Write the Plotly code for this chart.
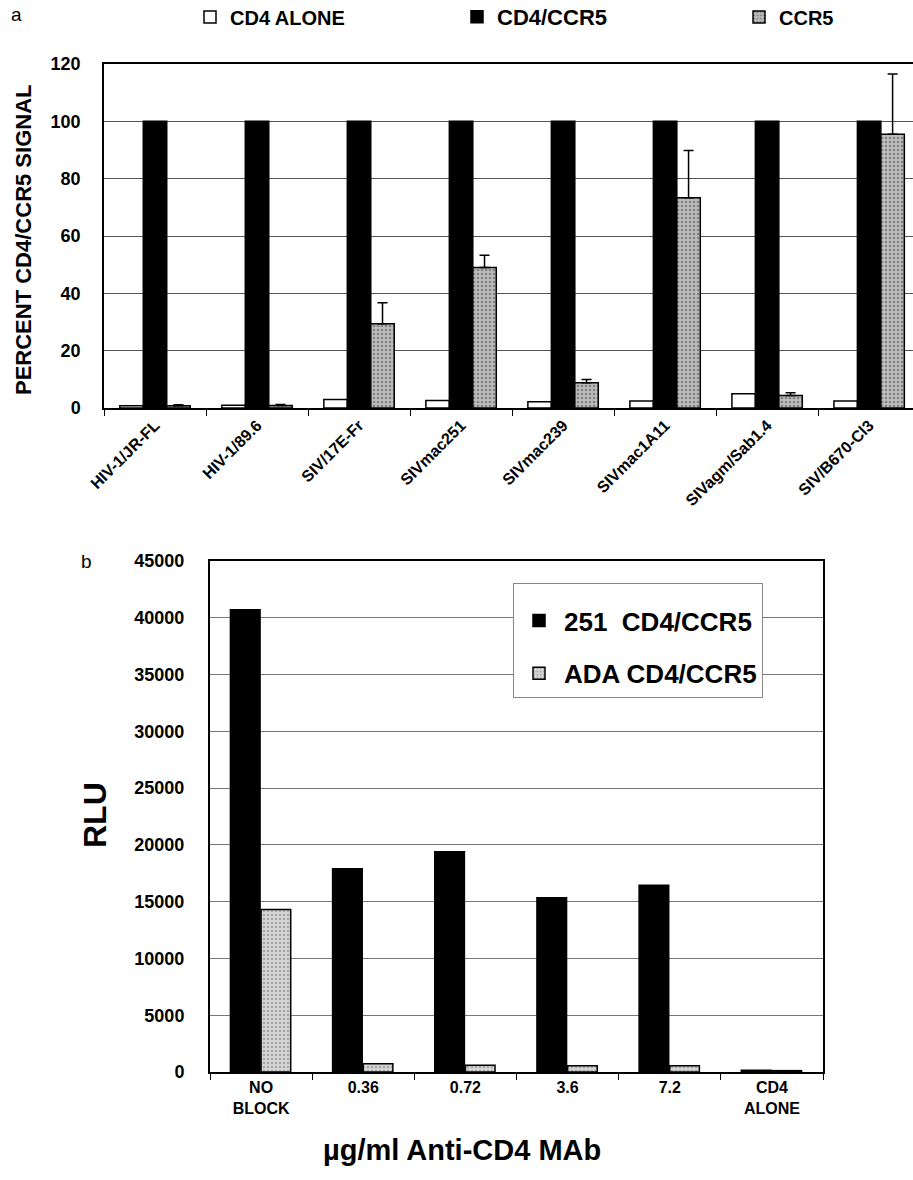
import plotly.graph_objects as go

# ---------------- data ----------------
strains = ["HIV-1/JR-FL", "HIV-1/89.6", "SIV/17E-Fr", "SIVmac251",
           "SIVmac239", "SIVmac1A11", "SIVagm/Sab1.4", "SIV/B670-Cl3"]
cd4_alone = [0.8, 1.0, 3.0, 2.6, 2.2, 2.4, 5.0, 2.4]
cd4_ccr5 = [100, 100, 100, 100, 100, 100, 100, 100]
ccr5 = [0.8, 0.9, 29.4, 49.0, 8.8, 73.3, 4.4, 95.5]
ccr5_err = [0.3, 0.3, 7.3, 4.3, 1.1, 16.5, 0.9, 21.0]

doses = ["NO<br>BLOCK", "0.36", "0.72", "3.6", "7.2", "CD4<br>ALONE"]
rlu_251 = [40700, 17900, 19400, 15350, 16450, 150]
rlu_ada = [14300, 730, 600, 560, 550, 120]

W, H = 913, 1180
FONT = "Liberation Sans, Arial, sans-serif"

grey_pattern = dict(shape=".", fgcolor="#4a4a4a", bgcolor="#bdbdbd", size=4, solidity=0.35)
grey_pattern_b = dict(shape=".", fgcolor="#777777", bgcolor="#d6d6d6", size=4, solidity=0.3)

fig = go.Figure()

# ---------------- panel a ----------------
bw = 0.23
fig.add_trace(go.Bar(x=strains, y=cd4_alone, name="CD4 ALONE", width=bw, offset=-0.345,
                     marker=dict(color="white", line=dict(color="black", width=1.5)),
                     xaxis="x", yaxis="y", legend="legend"))
fig.add_trace(go.Bar(x=strains, y=cd4_ccr5, name="CD4/CCR5", width=bw, offset=-0.115,
                     marker=dict(color="black", line=dict(color="black", width=1.5)),
                     xaxis="x", yaxis="y", legend="legend3"))
fig.add_trace(go.Bar(x=strains, y=ccr5, name="CCR5", width=bw, offset=0.115,
                     marker=dict(color="#bdbdbd", pattern=grey_pattern,
                                 line=dict(color="black", width=1.5)),
                     error_y=dict(type="data", symmetric=False, array=ccr5_err,
                                  arrayminus=[0] * len(ccr5_err), color="black",
                                  thickness=1.5, width=5),
                     xaxis="x", yaxis="y", legend="legend4"))

# ---------------- panel b ----------------
bw2 = 0.29
fig.add_trace(go.Bar(x=doses, y=rlu_251, name="251  CD4/CCR5", width=bw2, offset=-0.30,
                     legendgroup="g251",
                     marker=dict(color="black", line=dict(color="black", width=1.5)),
                     xaxis="x2", yaxis="y2", legend="legend2"))
fig.add_trace(go.Bar(x=doses, y=rlu_ada, name="ADA CD4/CCR5", width=bw2, offset=0.0,
                     legendgroup="gada",
                     marker=dict(color="#d6d6d6", pattern=grey_pattern_b,
                                 line=dict(color="black", width=1.5)),
                     xaxis="x2", yaxis="y2", legend="legend2"))

top_legend_font = dict(family=FONT, size=20, weight="bold")


def top_legend(xpx, size=20):
    return dict(orientation="h", x=xpx / W, xanchor="left", y=1 - 17 / H,
                yanchor="middle", font=dict(family=FONT, size=size, weight="bold"),
                bgcolor="rgba(0,0,0,0)")


fig.update_layout(
    width=W, height=H,
    margin=dict(l=0, r=0, t=0, b=0, autoexpand=False),
    paper_bgcolor="white", plot_bgcolor="white",
    font=dict(family=FONT, color="black"),
    barmode="group",
    showlegend=True,
    xaxis=dict(domain=[104 / W, 1.0], anchor="y", type="category", automargin=False,
               range=[-0.5, 7.43], showline=True, linecolor="black", linewidth=1.5,
               mirror=True, ticks="outside", tickson="boundaries", ticklen=6,
               tickcolor="black", tickangle=-45, showgrid=False,
               tickfont=dict(family=FONT, size=16, weight="bold")),
    yaxis=dict(domain=[1 - 408 / H, 1 - 64 / H], anchor="x", range=[0, 120], dtick=20,
               automargin=False,
               showline=True, linecolor="black", linewidth=1.5, showgrid=True,
               gridcolor="#555555", gridwidth=1, ticks="", ticklabelstandoff=18,
               zeroline=False,
               tickfont=dict(family=FONT, size=18, weight="bold")),
    xaxis2=dict(domain=[210 / W, 823 / W], anchor="y2", type="category",
                automargin=False,
                range=[-0.5, 5.5], showline=True, linecolor="black", linewidth=1.5,
                mirror=True, ticks="outside", tickson="boundaries", ticklen=6,
                tickcolor="black", showgrid=False,
                tickfont=dict(family=FONT, size=16, weight="bold")),
    yaxis2=dict(domain=[1 - 1072 / H, 1 - 561 / H], anchor="x2", range=[0, 45000],
                automargin=False,
                dtick=5000, tickformat="d", showline=True, linecolor="black",
                linewidth=2, mirror=True, showgrid=True, gridcolor="#777777",
                gridwidth=1, ticks="", ticklabelstandoff=20, zeroline=False,
                tickfont=dict(family=FONT, size=18, weight="bold")),
    legend=top_legend(190),
    legend3=top_legend(457, 22),
    legend4=top_legend(739),
    legend2=dict(x=513 / W, xanchor="left", y=1 - 583 / H, yanchor="top",
                 bgcolor="white", bordercolor="#888888", borderwidth=1,
                 font=dict(family=FONT, size=26, weight="bold"),
                 tracegroupgap=16, itemwidth=40,
                 title=dict(text=" ", font=dict(size=10))),
    annotations=[
        dict(text="a", x=16 / W, y=1 - 14 / H, xref="paper", yref="paper",
             xanchor="center", yanchor="middle",
             showarrow=False, font=dict(size=19, family=FONT)),
        dict(text="b", x=86 / W, y=1 - 562 / H, xref="paper", yref="paper",
             xanchor="center", yanchor="middle",
             showarrow=False, font=dict(size=19, family=FONT)),
        dict(text="PERCENT CD4/CCR5 SIGNAL", x=23 / W, y=1 - 240 / H,
             xref="paper", yref="paper", showarrow=False, textangle=-90,
             xanchor="center", yanchor="middle",
             font=dict(size=22, family=FONT, weight="bold")),
        dict(text="RLU", x=95 / W, y=1 - 815 / H, xref="paper", yref="paper",
             showarrow=False, textangle=-90, xanchor="center", yanchor="middle",
             font=dict(size=32, family=FONT, weight="bold")),
        dict(text="µg/ml Anti-CD4 MAb", x=462 / W, y=1 - 1150 / H,
             xref="paper", yref="paper", showarrow=False,
             xanchor="center", yanchor="middle",
             font=dict(size=29, family=FONT, weight="bold")),
    ],
)

fig.write_html("out.html", config={"displayModeBar": False},
               post_script="document.body.style.margin='0';document.body.style.padding='0';")
